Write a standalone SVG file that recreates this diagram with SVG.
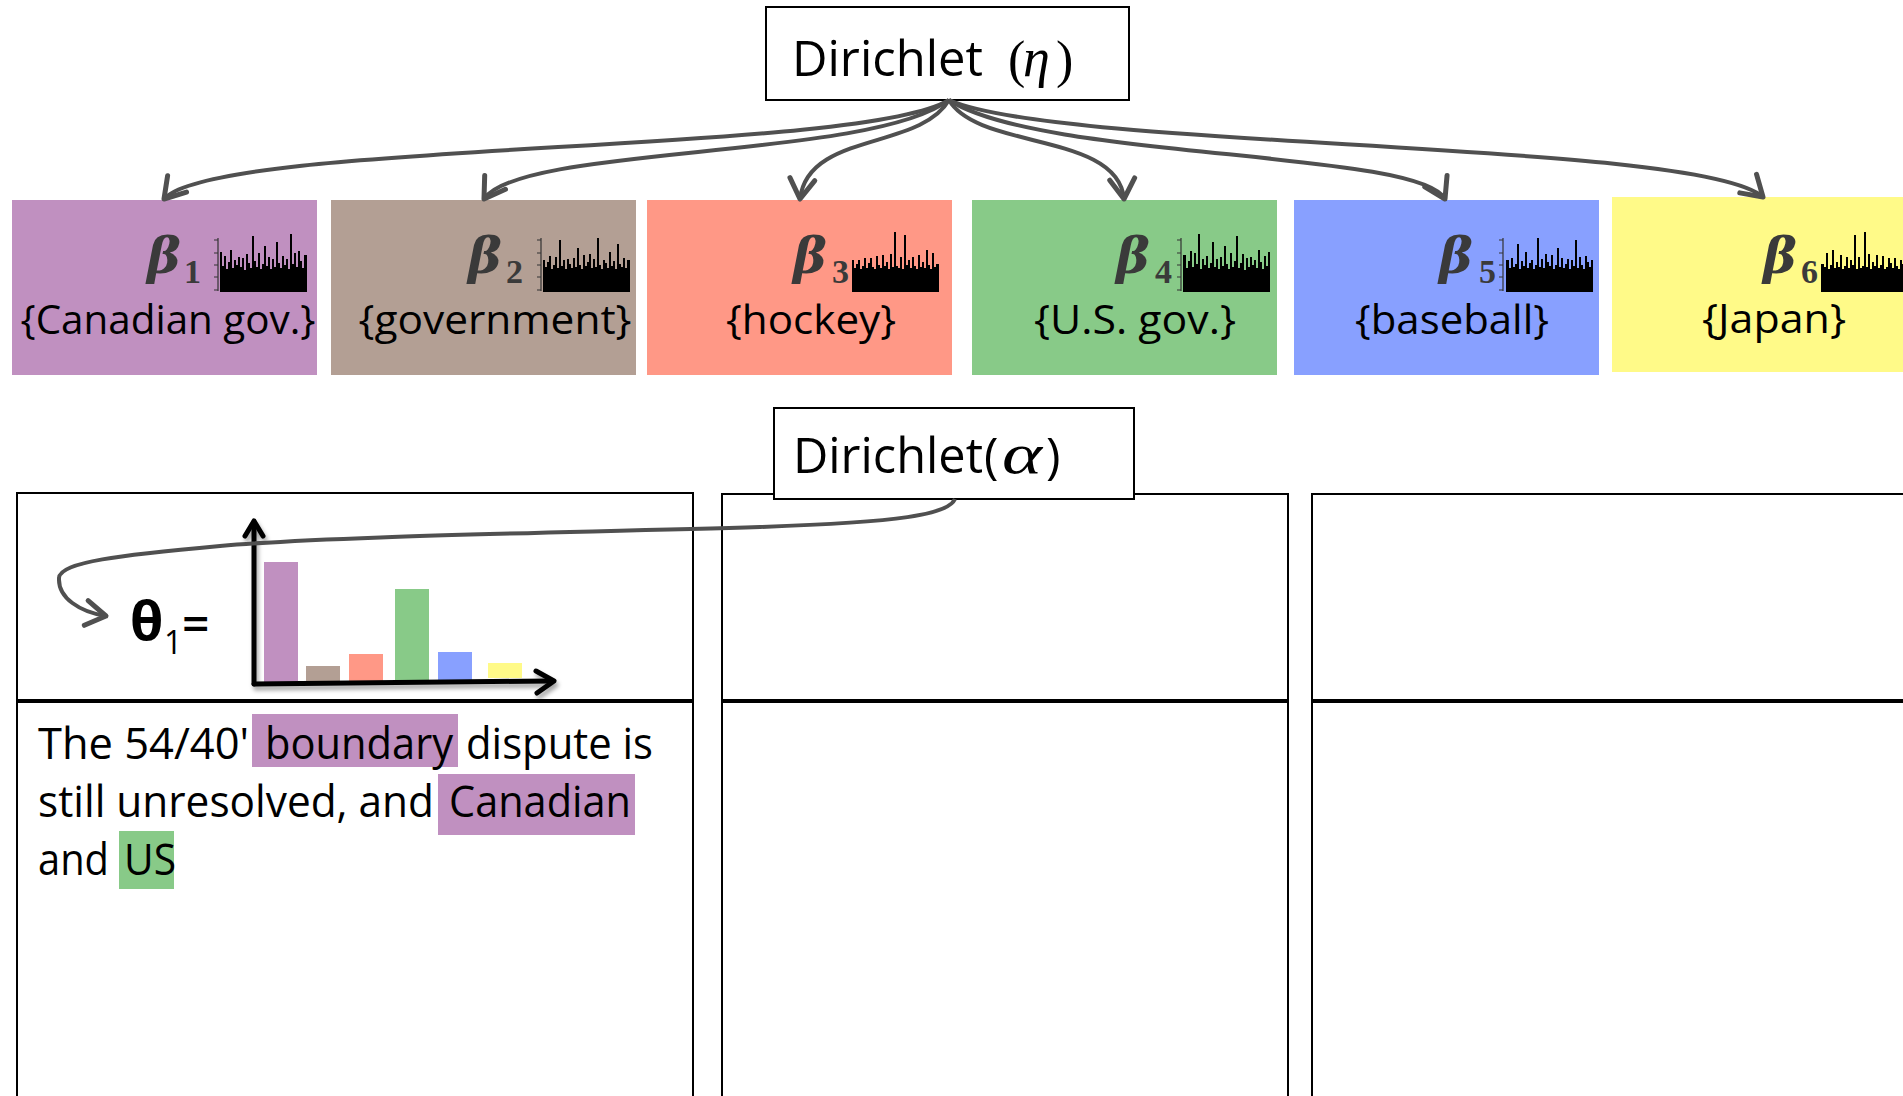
<svg xmlns="http://www.w3.org/2000/svg" xmlns:xlink="http://www.w3.org/1999/xlink" width="1903" height="1096" viewBox="0 0 1903 1096">
<style>
.sans{font-family:"Open Sans","Liberation Sans",sans-serif;fill:#000}
.serif{font-family:"Liberation Serif","DejaVu Serif",serif;fill:#000}
.beta{font-family:"DejaVu Serif","Liberation Serif",serif;font-weight:bold;font-style:italic;font-size:51px;fill:#3a3a3a}
.sub{font-family:"Liberation Serif","DejaVu Serif",serif;font-weight:bold;font-size:34px;fill:#3a3a3a}
.lbl{font-family:"Open Sans","Liberation Sans",sans-serif;font-size:41px;fill:#000;text-anchor:middle}
.doc{font-family:"Open Sans","Liberation Sans",sans-serif;font-size:44px;fill:#000}
.box{fill:#fff;stroke:#000;stroke-width:2}
.panel{fill:none;stroke:#000;stroke-width:2}
.conn{fill:none;stroke:#505050;stroke-width:4;marker-end:url(#arr)}
.hist{fill:#000}
.hax{fill:none;stroke:#333;stroke-width:1.2}
</style>
<defs>
<marker id="arr" markerUnits="userSpaceOnUse" markerWidth="40" markerHeight="40" viewBox="-30 -20 40 40" refX="0" refY="0" orient="auto" overflow="visible">
<path d="M-20,-12.5 L0,0 L-20,12.5" fill="none" stroke="#505050" stroke-width="5" stroke-linecap="round" stroke-linejoin="round"/>
</marker>
<filter id="sh" x="-10%" y="-10%" width="130%" height="140%">
<feDropShadow dx="2" dy="4" stdDeviation="2" flood-color="#000" flood-opacity="0.35"/>
</filter>
<path id="hA" class="hist" d="M0,62 V22 H2 V36 H4 V26 H6 V39 H8 V32 H10 V20 H12 V38 H14 V30 H16 V35 H18 V27 H20 V37 H22 V28 H24 V40 H26 V24 H28 V33 H30 V38 H32 V6 H34 V31 H36 V37 H38 V23 H40 V39 H42 V34 H44 V16 H46 V36 H48 V27 H50 V39 H52 V29 H54 V37 H56 V12 H58 V33 H60 V38 H62 V26 H64 V35 H66 V29 H68 V39 H70 V4 H72 V34 H74 V23 H76 V37 H78 V21 H80 V31 H82 V38 H84 V25 H87 V62 Z"/>
<path id="hB" class="hist" d="M0,62 V30 H2 V37 H4 V32 H6 V26 H8 V39 H10 V35 H12 V27 H14 V38 H16 V10 H18 V36 H20 V30 H22 V39 H24 V29 H26 V34 H28 V38 H30 V28 H32 V37 H34 V18 H36 V35 H38 V39 H40 V25 H42 V36 H44 V32 H46 V24 H48 V38 H50 V29 H52 V37 H54 V8 H56 V35 H58 V39 H60 V30 H62 V33 H64 V38 H66 V22 H68 V36 H70 V31 H72 V39 H74 V14 H76 V34 H78 V37 H80 V28 H82 V38 H84 V30 H87 V62 Z"/>
<path id="hC" class="hist" d="M0,62 V30 H2 V38 H4 V34 H6 V30 H8 V39 H10 V36 H12 V28 H14 V38 H16 V33 H18 V28 H20 V37 H22 V39 H24 V26 H26 V35 H28 V38 H30 V25 H32 V36 H34 V32 H36 V39 H38 V24 H40 V37 H42 V2 H44 V36 H46 V38 H48 V27 H50 V39 H52 V5 H54 V35 H56 V30 H58 V38 H60 V27 H62 V36 H64 V39 H66 V25 H68 V37 H70 V32 H72 V38 H74 V20 H76 V35 H78 V39 H80 V23 H82 V37 H84 V34 H87 V62 Z"/>
<path id="hax" class="hax" d="M-2,8 V61 M-2,10 H-6 M-2,23 H-6 M-2,35 H-6 M-2,47 H-6 M-2,60 H-6"/>
</defs>

<rect x="0" y="0" width="1903" height="1096" fill="#fff"/>

<g id="dirichlet-eta">
<rect class="box" x="766" y="7" width="363" height="93"/>
<text class="sans" x="792" y="76" font-size="49" textLength="191" lengthAdjust="spacingAndGlyphs">Dirichlet</text>
<text class="serif" x="1008" y="77" font-size="52">(</text>
<text class="serif" x="1023" y="76" font-size="54" font-style="italic" fill="#333">η</text>
<text class="serif" x="1056" y="77" font-size="52">)</text>
</g>

<g id="topic1">
<rect x="12" y="200" width="305" height="175" fill="#C090C0"/>
<text class="beta" x="147" y="273">β</text><text class="sub" x="184" y="283">1</text>
<use href="#hax" x="220" y="230"/><use href="#hA" x="220" y="230"/>
<text class="lbl" x="168" y="334" textLength="295" lengthAdjust="spacingAndGlyphs">{Canadian gov.}</text>
</g>
<g id="topic2">
<rect x="331" y="200" width="305" height="175" fill="#B39F94"/>
<text class="beta" x="468" y="273">β</text><text class="sub" x="506" y="283">2</text>
<use href="#hax" x="543" y="230"/><use href="#hB" x="543" y="230"/>
<text class="lbl" x="495" y="334" textLength="273" lengthAdjust="spacingAndGlyphs">{government}</text>
</g>
<g id="topic3">
<rect x="647" y="200" width="305" height="175" fill="#FF9886"/>
<text class="beta" x="793" y="273">β</text><text class="sub" x="832" y="283">3</text>
<use href="#hC" x="852" y="230"/>
<text class="lbl" x="811" y="334" textLength="170" lengthAdjust="spacingAndGlyphs">{hockey}</text>
</g>
<g id="topic4">
<rect x="972" y="200" width="305" height="175" fill="#88CA88"/>
<text class="beta" x="1116" y="273">β</text><text class="sub" x="1155" y="283">4</text>
<use href="#hax" x="1183" y="230"/><use href="#hA" transform="translate(1270,230) scale(-1,1)"/>
<text class="lbl" x="1135" y="334" textLength="202" lengthAdjust="spacingAndGlyphs">{U.S. gov.}</text>
</g>
<g id="topic5">
<rect x="1294" y="200" width="305" height="175" fill="#88A0FF"/>
<text class="beta" x="1439" y="273">β</text><text class="sub" x="1479" y="283">5</text>
<use href="#hax" x="1505" y="230"/><use href="#hB" transform="translate(1593,230) scale(-1,1)"/>
<text class="lbl" x="1452" y="334" textLength="194" lengthAdjust="spacingAndGlyphs">{baseball}</text>
</g>
<g id="topic6">
<rect x="1612" y="197" width="300" height="175" fill="#FFFA88"/>
<text class="beta" x="1763" y="273">β</text><text class="sub" x="1801" y="283">6</text>
<use href="#hC" transform="translate(1908,230) scale(-1,1)"/>
<text class="lbl" x="1774" y="333" textLength="144" lengthAdjust="spacingAndGlyphs">{Japan}</text>
</g>

<g id="doc-panels">
<rect class="panel" x="17" y="493" width="676" height="700"/>
<line x1="17" y1="701" x2="693" y2="701" stroke="#000" stroke-width="4"/>
<rect class="panel" x="722" y="494" width="566" height="700"/>
<line x1="722" y1="701" x2="1288" y2="701" stroke="#000" stroke-width="4"/>
<rect class="panel" x="1312" y="494" width="700" height="700"/>
<line x1="1312" y1="701" x2="1903" y2="701" stroke="#000" stroke-width="4"/>
</g>

<g id="theta">
<text class="sans" x="130" y="640" font-size="54" font-weight="bold">θ</text>
<text class="sans" x="164" y="654" font-size="32">1</text>
<text class="sans" x="182" y="641" font-size="48" font-weight="600">=</text>
</g>

<g id="theta-chart">
<rect x="264" y="562" width="34" height="120" fill="#C090C0"/>
<rect x="306" y="666" width="34" height="16" fill="#B39F94"/>
<rect x="349" y="654" width="34" height="28" fill="#FF9886"/>
<rect x="395" y="589" width="34" height="92" fill="#88CA88"/>
<rect x="438" y="652" width="34" height="28" fill="#88A0FF"/>
<rect x="488" y="663" width="34" height="15" fill="#FFFA88"/>
<g filter="url(#sh)" fill="none" stroke="#000" stroke-width="5" stroke-linecap="round" stroke-linejoin="round">
<path d="M254,684 V522"/>
<path d="M245,536 L254,521 L263,536"/>
<path d="M254,684 L552,681"/>
<path d="M536,671 L554,681 L537,693"/>
</g>
</g>

<g id="document-text">
<rect x="252" y="714" width="206" height="53" fill="#C090C0"/>
<rect x="438" y="774" width="197" height="61" fill="#C090C0"/>
<rect x="119" y="831" width="55" height="58" fill="#88CA88"/>
<text class="doc" x="38" y="759" textLength="211" lengthAdjust="spacingAndGlyphs">The 54/40'</text>
<text class="doc" x="265" y="759" textLength="188" lengthAdjust="spacingAndGlyphs">boundary</text>
<text class="doc" x="466" y="759" textLength="187" lengthAdjust="spacingAndGlyphs">dispute is</text>
<text class="doc" x="38" y="817" textLength="396" lengthAdjust="spacingAndGlyphs">still unresolved, and</text>
<text class="doc" x="449" y="817" textLength="182" lengthAdjust="spacingAndGlyphs">Canadian</text>
<text class="doc" x="38" y="875" textLength="71" lengthAdjust="spacingAndGlyphs">and</text>
<text class="doc" x="124" y="875" textLength="52" lengthAdjust="spacingAndGlyphs">US</text>
</g>

<g id="dirichlet-alpha">
<rect class="box" x="774" y="408" width="360" height="91"/>
<text class="sans" x="793" y="473" font-size="49" textLength="190" lengthAdjust="spacingAndGlyphs">Dirichlet</text>
<text class="sans" x="984" y="473" font-size="49">(</text>
<text class="serif" x="1002" y="473" font-size="56" font-style="italic" textLength="40" lengthAdjust="spacingAndGlyphs">α</text>
<text class="sans" x="1046" y="473" font-size="49">)</text>
</g>

<g id="connectors">
<path class="conn" d="M949,100 C860,155 215,140 164,199"/>
<path class="conn" d="M949,100 C870,160 520,145 484,199"/>
<path class="conn" d="M949,100 C920,150 808,132 800,199"/>
<path class="conn" d="M949,100 C978,150 1118,132 1124,199"/>
<path class="conn" d="M949,100 C1040,160 1420,150 1445,199"/>
<path class="conn" d="M949,100 C1060,150 1700,140 1763,197"/>
<path class="conn" stroke-width="3.5" d="M955,499 C948,515 900,522 760,527 C560,533 330,536 220,546 C120,555 60,562 59,578 C58,598 80,612 106,616"/>
</g>
</svg>
